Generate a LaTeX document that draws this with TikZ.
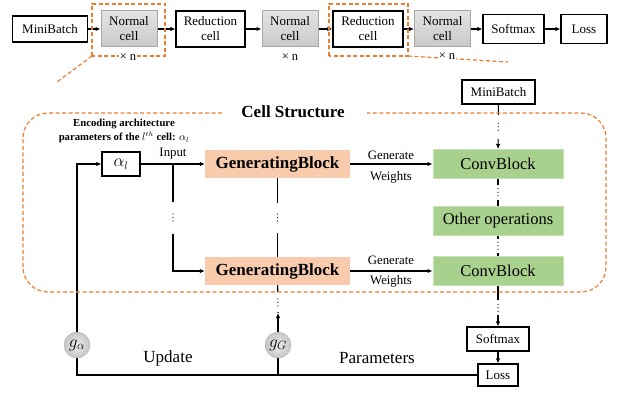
\documentclass[tikz,border=0pt]{standalone}
\usepackage{fontspec}
\setmainfont{Liberation Serif}
\usepackage{tikz}
\usetikzlibrary{positioning}
\usetikzlibrary{arrows.meta}
\definecolor{dashorange}{HTML}{ED7D31}
\definecolor{genpeach}{HTML}{F8CBAD}
\definecolor{convgreen}{HTML}{A9D18E}
\definecolor{convedge}{HTML}{C5E0B4}

\begin{document}
\begin{tikzpicture}[x=1pt, y=1pt,
    box/.style={draw, line width=1.1pt, align=center, inner sep=1pt, font=\fontsize{13}{15}\selectfont},
    normalcell/.style={draw=gray!70, line width=1pt, top color=gray!22, bottom color=gray!42, align=center, minimum width=56pt, minimum height=36pt, inner sep=1pt, font=\fontsize{13}{15}\selectfont},
    redcell/.style={box, minimum width=69pt, minimum height=36pt},
    genblock/.style={fill=genpeach, minimum width=145pt, minimum height=28pt, font=\bfseries\fontsize{17}{20}\selectfont},
    convblock/.style={fill=convgreen, draw=convedge, line width=1pt, minimum width=130pt, minimum height=29pt, font=\fontsize{16.5}{19}\selectfont},
    gradnode/.style={circle, draw=gray!60, inner color=gray!15, outer color=gray!45, minimum size=26pt, inner sep=0pt, font=\fontsize{17}{19}\selectfont},
    arr/.style={-{Latex[length=5pt,width=4.5pt]}, line width=1.1pt},
    conn/.style={line width=1.1pt},
    orangedash/.style={draw=dashorange, line width=1.2pt, dash pattern=on 4pt off 2.5pt},
    gapdots/.style={fill=white, inner sep=0pt, minimum width=4pt,
        path picture={\foreach \d in {-3.5,0,3.5} \fill[black] (path picture bounding box.center) ++(0,\d) circle (0.65pt);}},
    timesn/.style={fill=white, inner sep=1pt, font=\fontsize{12.5}{14}\selectfont},
    smalllabel/.style={font=\fontsize{12.8}{15}\selectfont},
    biglabel/.style={font=\fontsize{17}{20}\selectfont}
]
    \useasboundingbox (0,0) rectangle (617,394);

    % Network of cells
    \node[box, minimum width=75pt, minimum height=26pt] (mbtop) at (50,365) {MiniBatch};
    \node[normalcell] (nc1) at (129,365) {Normal\\cell};
    \node[redcell] (rc1) at (210.5,365) {Reduction\\cell};
    \node[normalcell] (nc2) at (290,365) {Normal\\cell};
    \node[redcell, minimum width=70pt] (rc2) at (368,365) {Reduction\\cell};
    \node[normalcell] (nc3) at (442.5,365) {Normal\\cell};
    \node[box, minimum width=61pt, minimum height=29pt] (smtop) at (513.5,365) {Softmax};
    \node[box, minimum width=46pt, minimum height=29pt] (losstop) at (584,365) {Loss};

    \draw[arr] (mbtop) -- (nc1);
    \draw[arr] (nc1) -- (rc1);
    \draw[arr] (rc1) -- (nc2);
    \draw[arr] (nc2) -- (rc2);
    \draw[arr] (rc2) -- (nc3);
    \draw[arr] (nc3) -- (smtop);
    \draw[arr] (smtop) -- (losstop);

    % Zoom frames
    \draw[orangedash] (92,338) rectangle (165,390);
    \draw[orangedash] (329,338) rectangle (408,390);
    \draw[orangedash] (92,338) -- (57,312);
    \draw[orangedash] (408,338) -- (508,332);

    \node[timesn] (xn1) at (128,337) {× n};
    \node[timesn] (xn2) at (290,337) {× n};
    \node[timesn] (xn3) at (447,338) {× n};

    % Cell structure
    \node[box, minimum width=73pt, minimum height=24pt] (mbcell) at (498.5,302) {MiniBatch};
    \node[font=\bfseries\fontsize{17}{20}\selectfont] (title) at (293,282) {Cell Structure};
    \node[font=\bfseries\fontsize{10.7}{14}\selectfont, align=center] (enclabel) at (124,263) {Encoding architecture\\parameters of the $l^{th}$ cell: $\alpha_l$};
    \node[box, minimum width=38pt, minimum height=24pt, font=\fontsize{16}{18}\selectfont] (alpha) at (121,230) {$\alpha_l$};
    \node[genblock] (gen1) at (277.5,230) {GeneratingBlock};
    \node[genblock] (gen2) at (277.5,123) {GeneratingBlock};
    \node[convblock] (conv1) at (498,230) {ConvBlock};
    \node[convblock] (other) at (498,173.5) {Other operations};
    \node[convblock] (conv2) at (498,123) {ConvBlock};
    \node[box, minimum width=62pt, minimum height=24pt] (smcell) at (498,55) {Softmax};
    \node[box, minimum width=40pt, minimum height=22pt] (losscell) at (498,19) {Loss};
    \node[gradnode] (galpha) at (77,49) {$g_\alpha$};
    \node[gradnode] (ggen) at (278,49) {$g_G$};

    % Labels
    \node[smalllabel] (inlabel) at (173,240) {Input};
    \node[smalllabel] (genlabel1) at (391,239) {Generate};
    \node[smalllabel] (wlabel1) at (391,217) {Weights};
    \node[smalllabel] (genlabel2) at (391,134) {Generate};
    \node[smalllabel] (wlabel2) at (391,113) {Weights};
    \node[biglabel] (updlabel) at (168,36) {Update};
    \node[biglabel] (parlabel) at (377,36) {Parameters};

    % Connectors
    \coordinate (branch) at (173,230);
    \coordinate (ggtip) at (278,81);
    \draw[arr] (galpha) |- (alpha);
    \draw[arr] (alpha) -- (gen1);
    \draw[arr] (branch) |- node[gapdots, pos=0.25, minimum height=32pt] {} (gen2);
    \draw[conn] (gen1) -- node[gapdots, minimum height=30pt] {} (gen2);
    \draw[conn] (gen2) -- node[gapdots, pos=0.62, minimum height=20pt] {} (ggtip);
    \draw[arr] (ggen) -- (ggtip);
    \draw[conn] (losscell) -| (galpha);
    \draw[conn] (ggen) -- (ggen |- losscell);
    \draw[arr] (gen1) -- (conv1);
    \draw[arr] (gen2) -- (conv2);
    \draw[arr] (mbcell) -- node[gapdots, minimum height=24pt] {} (conv1);
    \draw[conn] (conv1) -- node[gapdots, minimum height=15pt] {} (other);
    \draw[conn] (other) -- node[gapdots, minimum height=14pt] {} (conv2);
    \draw[arr] (conv2) -- node[gapdots, pos=0.54, minimum height=15pt] {} (smcell);
    \draw[arr] (smcell) -- (losscell);

    % Frame of the cell
    \draw[orangedash, rounded corners=25pt] (222,281) -- (23,281) -- (23,102) -- (606,102) -- (606,281) -- (367,281);
\end{tikzpicture}
\end{document}
